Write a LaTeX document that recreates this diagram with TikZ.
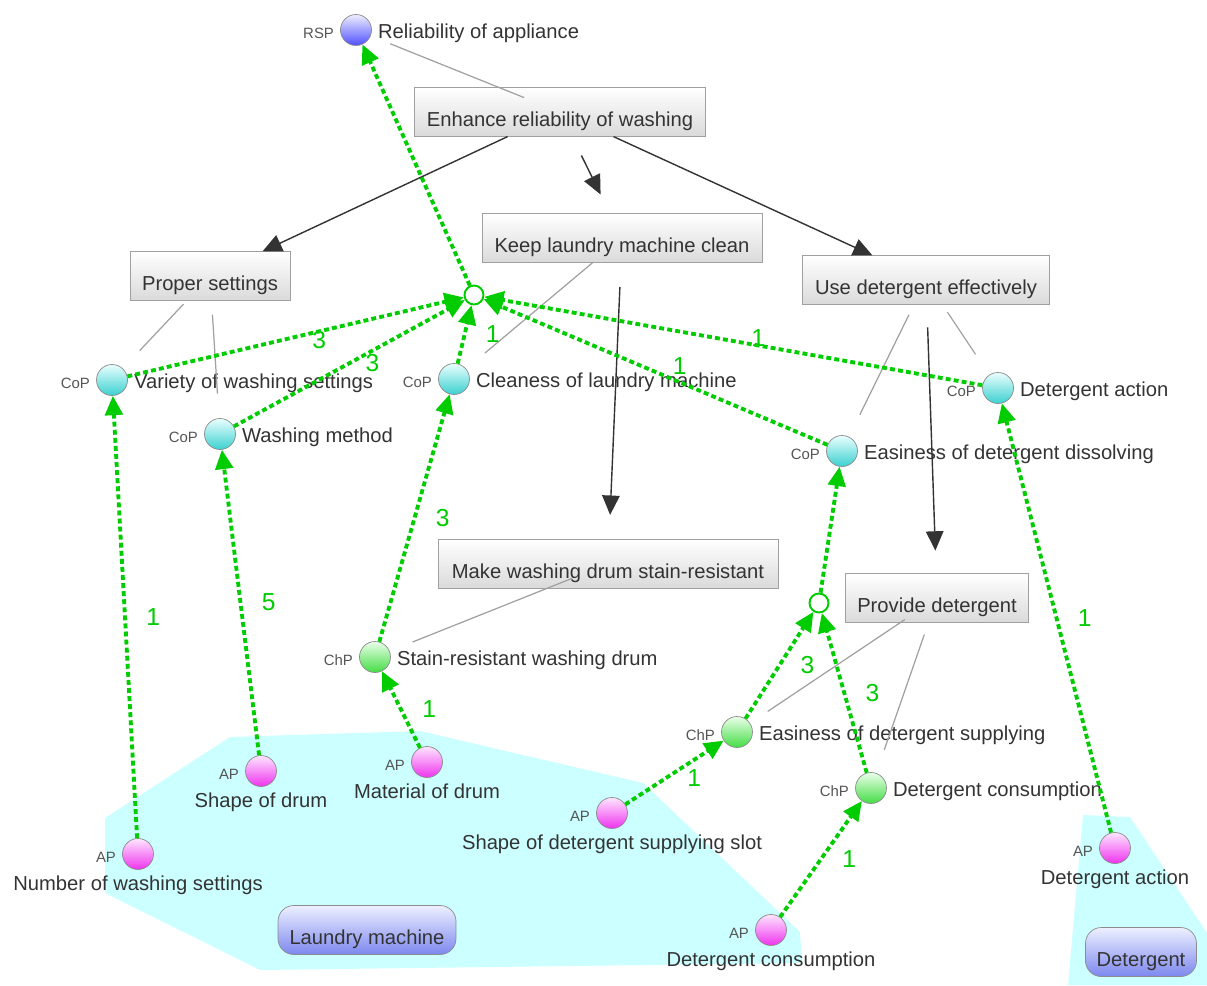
\documentclass[tikz,border=0pt]{standalone}
\usepackage{fontspec}
\setmainfont{Liberation Sans}
\usetikzlibrary{arrows.meta}

\definecolor{flowgreen}{RGB}{0,204,0}
\definecolor{textgray}{RGB}{51,51,51}
\definecolor{kindgray}{RGB}{85,85,85}
\definecolor{linegray}{RGB}{160,160,160}
\definecolor{arrowgray}{RGB}{51,51,51}
\definecolor{circborder}{RGB}{140,140,140}
\definecolor{goalborder}{RGB}{160,160,160}
\definecolor{goalbottom}{RGB}{218,218,218}
\definecolor{regioncyan}{RGB}{204,255,255}
\newcommand\mainsize{\fontsize{11.5}{13}\selectfont}
\newcommand\kindsize{\fontsize{8.5}{10}\selectfont}
\newcommand\weightsize{\fontsize{14}{16}\selectfont}
\tikzset{flowtip/.tip={Triangle[length=11pt,width=10pt]}}
\tikzset{goaltip/.tip={Triangle[length=11pt,width=10pt]}}

\begin{document}
\begin{tikzpicture}[x=0.02cm,y=-0.02cm,
    every node/.style={text=textgray,font=\mainsize},
    every label/.append style={yshift=-2pt},
    goal/.style={draw=goalborder,top color=white,bottom color=goalbottom,
        minimum height=0.97cm,text height=17pt,text depth=1pt},
    prop/.style={circle,draw=circborder,inner sep=0pt,minimum size=0.62cm},
    rspnode/.style={prop,top color={rgb,255:red,238;green,238;blue,255},bottom color={rgb,255:red,80;green,80;blue,255}},
    copnode/.style={prop,top color={rgb,255:red,234;green,255;blue,255},bottom color={rgb,255:red,60;green,208;blue,208}},
    chpnode/.style={prop,top color={rgb,255:red,234;green,255;blue,234},bottom color={rgb,255:red,68;green,221;blue,68}},
    apnode/.style={prop,top color={rgb,255:red,255;green,230;blue,255},bottom color={rgb,255:red,238;green,51;blue,238}},
    kind/.style={text=kindgray,font=\kindsize},
    junc/.style={circle,draw=flowgreen,fill=white,line width=1.1pt,inner sep=0pt,minimum size=0.38cm},
    legend/.style={draw=circborder,rounded corners=9pt,top color={rgb,255:red,236;green,240;blue,255},
        bottom color={rgb,255:red,125;green,135;blue,238},minimum height=0.98cm,text height=17pt,text depth=1pt},
    assoc/.style={draw=linegray,line width=0.7pt,shorten <=22pt,shorten >=14pt},
    goalarrow/.style={draw=arrowgray,line width=0.8pt,-goaltip},
    flow/.style={draw=flowgreen,line width=2.2pt,dash pattern=on 2.8pt off 1.8pt,-flowtip},
    weight/.style={text=flowgreen,font=\weightsize,inner sep=0pt}]
    \useasboundingbox (0,0) rectangle (1207,985);

    % object areas
    \fill[regioncyan] (105,818) -- (230,737) -- (420,731) -- (643,783) -- (800,932)
        -- (802,963) -- (260,970) -- (105,893) -- cycle;
    \fill[regioncyan] (1083,815) -- (1130,817) -- (1207,933) -- (1207,985) -- (1068,985) -- cycle;
    \node (lmach) [legend,minimum width=3.56cm] at (367,930) {Laundry machine};
    \node (deterg) [legend,minimum width=2.22cm] at (1141,952) {Detergent};

    % goals
    \node (enh) [goal,minimum width=5.82cm] at (560,112) {Enhance reliability of washing};
    \node (proper) [goal,minimum width=3.2cm] at (210,276) {Proper settings};
    \node (keep) [goal,minimum width=5.6cm] at (622,238) {Keep laundry machine clean};
    \node (usedet) [goal,minimum width=4.94cm] at (926,280) {Use detergent effectively};
    \node (make) [goal,minimum width=6.8cm] at (608,564) {Make washing drum stain-resistant};
    \node (provide) [goal,minimum width=3.66cm] at (937,598) {Provide detergent};

    % properties
    \node (rsp) [rspnode,label={[kind]left:RSP},label={right:Reliability of appliance}] at (356,30) {};
    \node (varset) [copnode,label={[kind]left:CoP},label={right:Variety of washing settings}] at (112,380) {};
    \node (washmeth) [copnode,label={[kind]left:CoP},label={right:Washing method}] at (220,434) {};
    \node (clean) [copnode,label={[kind]left:CoP},label={right:Cleaness of laundry machine}] at (454,379) {};
    \node (detact) [copnode,label={[kind]left:CoP},label={right:Detergent action}] at (998,388) {};
    \node (dissolve) [copnode,label={[kind]left:CoP},label={right:Easiness of detergent dissolving}] at (842,451) {};
    \node (stain) [chpnode,label={[kind]left:ChP},label={right:Stain-resistant washing drum}] at (375,657) {};
    \node (supply) [chpnode,label={[kind]left:ChP},label={right:Easiness of detergent supplying}] at (737,732) {};
    \node (consch) [chpnode,label={[kind]left:ChP},label={right:Detergent consumption}] at (871,788) {};
    \node (numset) [apnode,label={[kind]left:AP},label={[inner sep=1pt]below:Number of washing settings}] at (138,854) {};
    \node (shape) [apnode,label={[kind]left:AP},label={[inner sep=1pt]below:Shape of drum}] at (261,771) {};
    \node (material) [apnode,label={[kind]left:AP},label={[inner sep=1pt]below:Material of drum}] at (427,762) {};
    \node (slot) [apnode,label={[kind]left:AP},label={[inner sep=1pt]below:Shape of detergent supplying slot}] at (612,813) {};
    \node (consap) [apnode,label={[kind]left:AP},label={[inner sep=1pt]below:Detergent consumption}] at (771,930) {};
    \node (actap) [apnode,label={[kind]left:AP},label={[inner sep=1pt]below:Detergent action}] at (1115,848) {};
    \node (j1) [junc] at (474,295) {};
    \node (j2) [junc] at (819,603) {};

    % goal links
    \draw[assoc,shorten >=12pt] (enh.center) -- (rsp);
    \draw[assoc] (proper.center) -- (varset);
    \draw[assoc] (proper.center) -- (washmeth);
    \draw[assoc] (keep.center) -- (clean);
    \draw[assoc] (usedet.center) -- (dissolve);
    \draw[assoc] (usedet.center) -- (detact);
    \draw[assoc] (make.center) -- (stain);
    \draw[assoc,shorten >=12pt] (provide.center) -- (supply);
    \draw[assoc] (provide.center) -- (consch);

    \draw[goalarrow] (enh) -- (proper);
    \draw[goalarrow] (enh) -- (usedet);
    \draw[goalarrow,shorten <=12pt,shorten >=12pt] (enh) -- (keep);
    \draw[goalarrow,shorten <=14pt,shorten >=14pt] (keep) -- (make);
    \draw[goalarrow,shorten <=13pt,shorten >=13pt] (usedet) -- (provide);

    % influences
    \draw[flow] (varset) -- node[weight,pos=0.57,below=-1pt] {3} (j1);
    \draw[flow] (washmeth) -- node[weight,pos=0.6,below=1pt] {3} (j1);
    \draw[flow] (clean) -- node[weight,pos=0.5,right=11pt] {1} (j1);
    \draw[flow] (dissolve) -- node[weight,pos=0.43,above=3pt] {1} (j1);
    \draw[flow] (detact) -- node[weight,pos=0.45,above=-1.5pt] {1} (j1);
    \draw[flow] (j1) -- (rsp);
    \draw[flow] (stain) -- node[weight,pos=0.5,right=11pt] {3} (clean);
    \draw[flow] (numset) -- node[weight,pos=0.5,right=11pt] {1} (varset);
    \draw[flow] (shape) -- node[weight,pos=0.5,right=11pt] {5} (washmeth);
    \draw[flow] (material) -- node[weight,pos=0.5,right=11pt] {1} (stain);
    \draw[flow] (slot) -- node[weight,pos=0.7,below=4.5pt] {1} (supply);
    \draw[flow] (consap) -- node[weight,pos=0.5,right=11pt] {1} (consch);
    \draw[flow] (supply) -- node[weight,pos=0.5,right=11pt] {3} (j2);
    \draw[flow] (consch) -- node[weight,pos=0.5,right=11pt] {3} (j2);
    \draw[flow] (j2) -- (dissolve);
    \draw[flow] (actap) -- node[weight,pos=0.5,right=11pt] {1} (detact);
\end{tikzpicture}
\end{document}
